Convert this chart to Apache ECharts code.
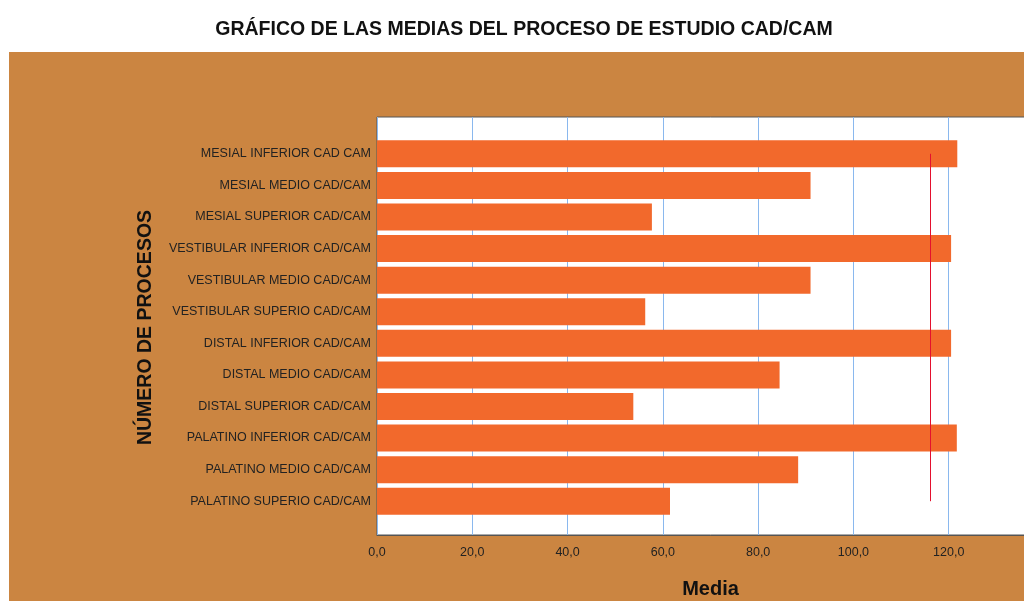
<!DOCTYPE html>
<html>
<head>
<meta charset="utf-8">
<script src="https://cdn.jsdelivr.net/npm/echarts@6/dist/echarts.min.js"></script>
<style>
  html, body { margin: 0; padding: 0; background: #ffffff; overflow: hidden; width: 1024px; height: 601px; }
  #panel { position: absolute; left: 9px; top: 52px; width: 1015px; height: 549px; background: #CB8541; }
  #chart { position: absolute; left: 0; top: 0; width: 1048px; height: 601px; }
</style>
</head>
<body>
<div id="panel"></div>
<div id="chart"></div>
<script>
// Procesos (de arriba abajo) y sus medias
const categories = [
  'MESIAL INFERIOR CAD CAM',
  'MESIAL MEDIO CAD/CAM',
  'MESIAL SUPERIOR CAD/CAM',
  'VESTIBULAR INFERIOR CAD/CAM',
  'VESTIBULAR MEDIO CAD/CAM',
  'VESTIBULAR SUPERIO CAD/CAM',
  'DISTAL INFERIOR CAD/CAM',
  'DISTAL MEDIO CAD/CAM',
  'DISTAL SUPERIOR CAD/CAM',
  'PALATINO INFERIOR CAD/CAM',
  'PALATINO MEDIO CAD/CAM',
  'PALATINO SUPERIO CAD/CAM'
];
const medias = [121.8, 91.0, 57.7, 120.5, 91.0, 56.3, 120.5, 84.5, 53.8, 121.7, 88.4, 61.5];
// Línea de referencia
const referencia = 116.2;
const xTicks = { min: 0, max: 140, interval: 20 };

const FONT = 'Liberation Sans, Arial, sans-serif';
const chart = echarts.init(document.getElementById('chart'));

const fmt = v => v.toFixed(1).replace('.', ',');

chart.setOption({
  backgroundColor: 'transparent',
  animation: false,
  title: {
    text: 'GRÁFICO DE LAS MEDIAS DEL PROCESO DE ESTUDIO CAD/CAM',
    left: 'center',
    top: 15,
    textStyle: { fontFamily: FONT, fontSize: 19.5, fontWeight: 'bold', color: '#111' }
  },
  grid: [
    // marco blanco con cuadrícula
    { left: 377, top: 117, width: 667, height: 418, show: true, outerBoundsMode: 'none', containLabel: false,
      backgroundColor: '#ffffff', borderColor: '#555555', borderWidth: 1 },
    // barras
    { left: 377, top: 138, width: 667, height: 379, outerBoundsMode: 'none', containLabel: false }
  ],
  xAxis: [
    {
      gridIndex: 0, type: 'value', min: xTicks.min, max: xTicks.max, interval: xTicks.interval,
      name: 'Media', nameLocation: 'middle', nameGap: 44,
      nameTextStyle: { fontFamily: FONT, fontSize: 20, fontWeight: 'bold', color: '#111' },
      axisLine: { show: true, lineStyle: { color: '#555555', width: 1 } },
      axisTick: { show: false },
      axisLabel: { formatter: fmt, margin: 11, fontFamily: FONT, fontSize: 12.5, color: '#222' },
      splitLine: { show: true, lineStyle: { color: '#8AB8EE', width: 1 } }
    },
    {
      gridIndex: 1, type: 'value', min: xTicks.min, max: xTicks.max, show: false
    }
  ],
  yAxis: [
    { gridIndex: 0, type: 'value', show: false, splitLine: { show: false } },
    {
      gridIndex: 1, type: 'category', data: categories, inverse: true,
      name: 'NÚMERO DE PROCESOS', nameLocation: 'middle', nameRotate: 90, nameGap: 221,
      nameTextStyle: { fontFamily: FONT, fontSize: 19.5, fontWeight: 'bold', color: '#111' },
      axisLine: { show: false },
      axisTick: { show: false },
      axisLabel: { margin: 6, fontFamily: FONT, fontSize: 12.5, color: '#222' }
    }
  ],
  series: [{
    type: 'bar',
    xAxisIndex: 1, yAxisIndex: 1,
    data: medias,
    barWidth: 27,
    itemStyle: { color: '#F2692C' },
    markLine: {
      silent: true,
      symbol: ['none', 'none'],
      label: { show: false },
      lineStyle: { color: '#E4102E', width: 1, type: 'solid' },
      data: [[
        { coord: [referencia, categories[0]] },
        { coord: [referencia, categories[categories.length - 1]] }
      ]]
    }
  }]
});
</script>
</body>
</html>
